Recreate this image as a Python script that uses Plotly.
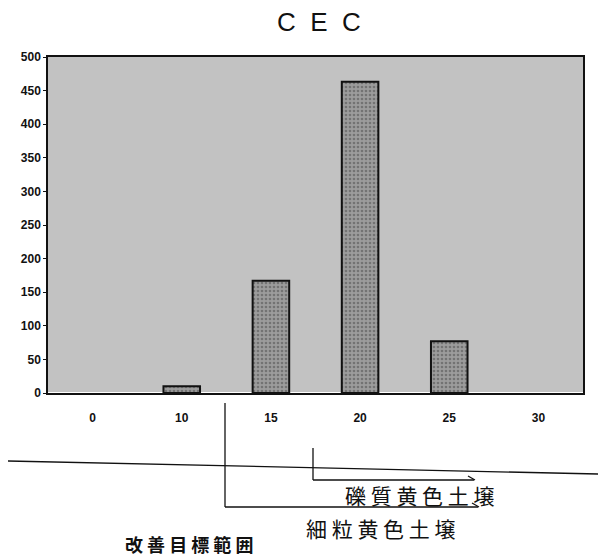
"""CEC distribution bar chart with soil-type range brackets."""
import plotly.graph_objects as go

# Data
categories = ["0", "10", "15", "20", "25", "30"]
values = [None, 10, 167, 463, 77, None]
y_ticks = [0, 50, 100, 150, 200, 250, 300, 350, 400, 450, 500]

W, H = 598, 557
L, R, T, B = 48, 15, 57, 164
PW, PH = W - L - R, H - T - B


def px(x):
    return (x - L) / PW


def py(y):
    return (H - B - y) / PH


fig = go.Figure()

fig.add_trace(go.Bar(
    x=categories,
    y=values,
    marker=dict(
        color="#8e8e8e",
        line=dict(color="#111111", width=2),
        pattern=dict(shape=".", fgcolor="#4a4a4a", bgcolor="#9c9c9c",
                     size=4, solidity=0.35),
    ),
    width=0.41,
    showlegend=False,
))

shapes = []
line_style = dict(color="#111111", width=1.3)
# long horizontal rule under the axis
shapes.append(dict(type="line", xref="paper", yref="paper",
                   x0=px(8), y0=py(461), x1=px(598), y1=py(474), line=line_style))
# bracket for 細粒黄色土壌
shapes.append(dict(type="line", xref="paper", yref="paper",
                   x0=px(225), y0=py(403), x1=px(225), y1=py(507), line=line_style))
shapes.append(dict(type="line", xref="paper", yref="paper",
                   x0=px(225), y0=py(507), x1=px(478), y1=py(507), line=line_style))
shapes.append(dict(type="line", xref="paper", yref="paper",
                   x0=px(472), y0=py(503), x1=px(479), y1=py(507), line=line_style))
# bracket for 礫質黄色土壌
shapes.append(dict(type="line", xref="paper", yref="paper",
                   x0=px(313), y0=py(448), x1=px(313), y1=py(480), line=line_style))
shapes.append(dict(type="line", xref="paper", yref="paper",
                   x0=px(313), y0=py(480), x1=px(474), y1=py(480), line=line_style))
shapes.append(dict(type="line", xref="paper", yref="paper",
                   x0=px(468), y0=py(476), x1=px(475), y1=py(480), line=line_style))

cjk = "Noto Sans CJK JP"
annotations = [
    dict(text="礫 質 黄 色 土 壌", x=px(420), y=py(495), xref="paper", yref="paper",
         xanchor="center", yanchor="middle", showarrow=False,
         font=dict(family=cjk, size=21, color="#111111")),
    dict(text="細 粒 黄 色 土 壌", x=px(381), y=py(528), xref="paper", yref="paper",
         xanchor="center", yanchor="middle", showarrow=False,
         font=dict(family=cjk, size=21, color="#111111")),
    dict(text="<b>改 善 目 標 範 囲</b>", x=px(189), y=py(544), xref="paper", yref="paper",
         xanchor="center", yanchor="middle", showarrow=False, borderpad=0,
         font=dict(family=cjk, size=18, color="#111111")),
]

sp = "\u00a0\u00a0"
fig.update_layout(
    width=W,
    height=H,
    margin=dict(l=L, r=R, t=T, b=B),
    paper_bgcolor="white",
    plot_bgcolor="#c2c2c2",
    title=dict(text=f"C{sp}E{sp}C", x=319 / W, xanchor="center", y=1 - 22 / H,
               yanchor="middle", font=dict(family="Arial", size=26, color="#111111")),
    bargap=0.6,
    shapes=shapes,
    annotations=annotations,
    font=dict(family="Arial", color="#111111"),
)
fig.update_xaxes(
    type="category",
    categoryorder="array",
    categoryarray=categories,
    showline=True, linecolor="#111111", linewidth=1.5, mirror=True,
    showgrid=False, ticks="", ticklabelstandoff=13,
    tickfont=dict(family="Arial", size=12, weight="bold"),
)
fig.update_yaxes(
    range=[0, 500],
    tickvals=y_ticks,
    showline=True, linecolor="#111111", linewidth=1.5, mirror=True,
    showgrid=False, ticks="outside", ticklen=3, tickcolor="#111111",
    tickfont=dict(family="Arial", size=12, weight="bold"),
)

fig.write_html("out.html", config={"displayModeBar": False},
               post_script="document.body.style.margin='0';")
